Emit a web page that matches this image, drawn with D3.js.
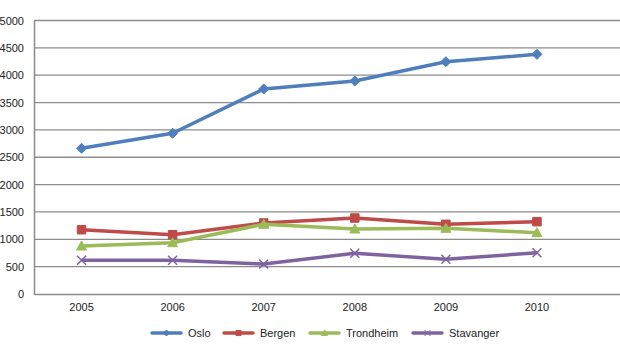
<!DOCTYPE html>
<html><head><meta charset="utf-8">
<script src="https://cdn.jsdelivr.net/npm/d3@7"></script>
<style>body{margin:0;background:#fff}svg{display:block}text{font-family:"Liberation Sans",Arial,sans-serif;font-size:11px;fill:#222}</style>
</head><body><svg id="c" width="620" height="355"></svg>
<script>
const years = ["2005","2006","2007","2008","2009","2010"];
const yTicks = [0,500,1000,1500,2000,2500,3000,3500,4000,4500,5000];
const seriesNames = ["Oslo","Bergen","Trondheim","Stavanger"];
const oslo = [2664,2938,3748,3894,4247,4382];
const bergen = [1175,1084,1298,1389,1274,1322];
const trondheim = [877,938,1274,1188,1201,1121];
const stavanger = [616,616,548,744,634,755];
const colors = ["#4F7EBD","#BE4B48","#9BBB59","#7F63A1"];
const markers = ["diamond","square","triangle","cross"];
const values = [oslo,bergen,trondheim,stavanger];

(function(){
const svg = d3.select("#c");
const pl = 34, pr = 620, pt = 20.5, pb = 294;
const x = d3.scaleBand().domain(years).range([36, 582.5]);
const y = d3.scaleLinear().domain([0,5000]).range([pb, pt]);

svg.append("g").selectAll("line").data(yTicks.filter(d=>d>0)).join("line")
  .attr("x1", pl).attr("x2", pr)
  .attr("y1", d=>y(d)).attr("y2", d=>y(d))
  .attr("stroke", "#8c8c8c").attr("stroke-width", 1.3);

const ya = svg.append("g").attr("transform", `translate(${pl},0)`)
  .call(d3.axisLeft(y).tickValues(yTicks).tickSize(0).tickPadding(10).tickFormat(d3.format("d")));
ya.select(".domain").attr("stroke","#8c8c8c").attr("stroke-width",1.5);
ya.selectAll("text").style("font-size","11px").attr("fill","#222");

const xa = svg.append("g").attr("transform", `translate(0,${pb})`)
  .call(d3.axisBottom(x).tickSize(0).tickPadding(9));
xa.select(".domain").attr("stroke","#8c8c8c").attr("stroke-width",1.5).attr("d",`M${pl},0.5H${pr}`);
xa.selectAll("text").style("font-size","11px").attr("fill","#222");

function markerPath(type, s) {
  if (type==="diamond") return `M0,${-s}L${s},0L0,${s}L${-s},0Z`;
  if (type==="square") return `M${-s*0.85},${-s*0.85}H${s*0.85}V${s*0.85}H${-s*0.85}Z`;
  if (type==="triangle") return `M0,${-s}L${s},${s*0.8}L${-s},${s*0.8}Z`;
  return `M${-s},${-s}L${s},${s}M${s},${-s}L${-s},${s}`;
}

const line = d3.line().x((d,i)=>x(years[i])+x.bandwidth()/2).y(d=>y(d));
values.forEach((vals,k)=>{
  const g = svg.append("g");
  g.append("path").datum(vals).attr("d", line).attr("fill","none")
    .attr("stroke", colors[k]).attr("stroke-width", 3.5).attr("stroke-linejoin","round");
  g.selectAll("path.m").data(vals).join("path").attr("class","m")
    .attr("transform",(d,i)=>`translate(${x(years[i])+x.bandwidth()/2},${y(d)})`)
    .attr("d", markerPath(markers[k], markers[k]==="cross"?4.5:5))
    .attr("fill", markers[k]==="cross"?"none":colors[k])
    .attr("stroke", colors[k]).attr("stroke-width", markers[k]==="cross"?1.5:1);
});

const legX = [152, 224, 310, 413];
const lg = svg.append("g");
seriesNames.forEach((n,k)=>{
  const g = lg.append("g").attr("transform",`translate(${legX[k]},333)`);
  g.append("line").attr("x1",0).attr("x2",29).attr("stroke",colors[k]).attr("stroke-width",3.5).attr("stroke-linecap","round");
  g.append("path").attr("transform","translate(14.5,0)").attr("d",markerPath(markers[k],3))
    .attr("fill", markers[k]==="cross"?"none":colors[k]).attr("stroke",colors[k]).attr("stroke-width",1);
  g.append("text").attr("x",36).attr("y",4).text(n);
});
})();
</script></body></html>
